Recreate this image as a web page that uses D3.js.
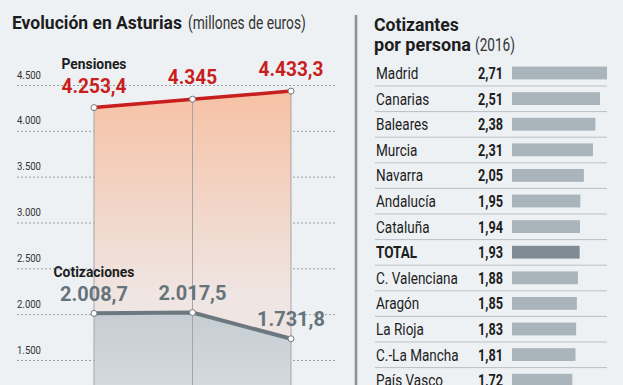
<!DOCTYPE html>
<html><head><meta charset="utf-8">
<script src="https://cdn.jsdelivr.net/npm/d3@7"></script>
<style>
html,body{margin:0;padding:0;background:#edf1f4;}
svg{display:block;}
text{font-family:Roboto,"Noto Sans",sans-serif;}
</style></head><body>
<svg id="c" width="623" height="385"></svg>
<script>
const years = ["2015","2016","2017"];
const pensiones = [4253.4, 4345, 4433.3];
const pensionesLabels = ["4.253,4","4.345","4.433,3"];
const cotizaciones = [2008.7, 2017.5, 1731.8];
const cotizacionesLabels = ["2.008,7","2.017,5","1.731,8"];
const yTicks = [1500, 2000, 2500, 3000, 3500, 4000, 4500];
const yTickLabels = ["1.500","2.000","2.500","3.000","3.500","4.000","4.500"];

const regiones = ["Madrid","Canarias","Baleares","Murcia","Navarra","Andalucía","Cataluña","TOTAL","C. Valenciana","Aragón","La Rioja","C.-La Mancha","País Vasco"];
const cotizantes = [2.71, 2.51, 2.38, 2.31, 2.05, 1.95, 1.94, 1.93, 1.88, 1.85, 1.83, 1.81, 1.72];
const cotizantesLabels = ["2,71","2,51","2,38","2,31","2,05","1,95","1,94","1,93","1,88","1,85","1,83","1,81","1,72"];

const svg = d3.select("#c");
svg.append("rect").attr("width",623).attr("height",385).attr("fill","#edf1f4");

// horizontal squeeze helper (condensed look)
function squeezeBy(sel, s){
  sel.each(function(){
    const t=d3.select(this); const x=+t.attr("x")||0, y=+t.attr("y")||0;
    t.attr("x",0).attr("y",0).attr("transform",`translate(${x},${y}) scale(${s},1)`);
  });
}
function fitTo(sel, target){
  sel.each(function(){
    const w=this.getComputedTextLength();
    squeezeBy(d3.select(this), target/w);
  });
}

const defs = svg.append("defs");
const gp = defs.append("linearGradient").attr("id","gp").attr("gradientUnits","userSpaceOnUse")
  .attr("x1",0).attr("x2",0).attr("y1",95).attr("y2",300);
gp.append("stop").attr("offset",0).attr("stop-color","#f6c2a6");
gp.append("stop").attr("offset",1).attr("stop-color","#efe6e4");
const gc = defs.append("linearGradient").attr("id","gc").attr("gradientUnits","userSpaceOnUse")
  .attr("x1",0).attr("x2",0).attr("y1",310).attr("y2",385);
gc.append("stop").attr("offset",0).attr("stop-color","#c6cdd2");
gc.append("stop").attr("offset",1).attr("stop-color","#d3d9dd");

// Title
const tA = svg.append("text").attr("x",12).attr("y",29).attr("fill","#1d1d1d")
  .attr("font-weight","bold").style("font-size","18px").text("Evolución en Asturias");
fitTo(tA,170);
const tB = svg.append("text").attr("x",188).attr("y",29).attr("fill","#333")
  .style("font-size","18px").text("(millones de euros)");
fitTo(tB,118);

// Scales
const x = d3.scalePoint().domain(years).range([94, 291]);
const y = d3.scaleLinear().domain([1500, 4500]).range([360, 85]);
const bottom = 385;

// grid
const axis = d3.axisLeft(y).tickValues(yTicks).tickSize(-(335-17)).tickFormat(d=>yTickLabels[yTicks.indexOf(d)]);
const ag = svg.append("g").attr("transform","translate(17,0)").call(axis);
ag.select(".domain").remove();
ag.selectAll(".tick line").attr("stroke","#9a9fa3").attr("stroke-dasharray","2,2").attr("stroke-width",1);
const tt = ag.selectAll(".tick text").attr("x",0).attr("y",-7).attr("dy",null).attr("text-anchor","start")
  .attr("fill","#333").style("font-size","11.5px");
fitTo(tt,24);

// areas
const areaP = d3.area().x((d,i)=>x(years[i])).y0(bottom).y1(d=>y(d));
svg.append("path").datum(pensiones).attr("d",areaP).attr("fill","url(#gp)");
const areaC = d3.area().x((d,i)=>x(years[i])).y0(bottom).y1(d=>y(d));
svg.append("path").datum(cotizaciones).attr("d",areaC).attr("fill","url(#gc)");

// vertical lines
svg.selectAll(".vl").data(years).enter().append("line")
  .attr("x1",d=>x(d)).attr("x2",d=>x(d)).attr("y1",(d,i)=>y(pensiones[i])).attr("y2",bottom)
  .attr("stroke","#a7a4a3").attr("stroke-width",1);

// lines
const line = d3.line().x((d,i)=>x(years[i])).y(d=>y(d));
svg.append("path").datum(pensiones).attr("d",line).attr("fill","none").attr("stroke","#c81e1e").attr("stroke-width",3.5);
svg.append("path").datum(cotizaciones).attr("d",line).attr("fill","none").attr("stroke","#6c7880").attr("stroke-width",4);

[pensiones, cotizaciones].forEach(s=>{
  svg.selectAll(null).data(s).enter().append("circle")
    .attr("cx",(d,i)=>x(years[i])).attr("cy",d=>y(d)).attr("r",3)
    .attr("fill","#fff").attr("stroke","#777").attr("stroke-width",1);
});

// labels
const pl = svg.selectAll(null).data(pensiones).enter().append("text")
  .attr("x",(d,i)=>x(years[i])).attr("y",d=>y(d)-15).attr("text-anchor","middle")
  .attr("fill","#c81e1e").attr("font-weight","bold").style("font-size","21px")
  .text((d,i)=>pensionesLabels[i]);
squeezeBy(pl, 65/pl.nodes()[0].getComputedTextLength());
const cl = svg.selectAll(null).data(cotizaciones).enter().append("text")
  .attr("x",(d,i)=>x(years[i])).attr("y",d=>y(d)-12.5).attr("text-anchor","middle")
  .attr("fill","#67737b").attr("font-weight","bold").style("font-size","21px")
  .text((d,i)=>cotizacionesLabels[i]);
squeezeBy(cl, 68/cl.nodes()[0].getComputedTextLength());
const lp = svg.append("text").attr("x",x(years[0])).attr("y",69).attr("text-anchor","middle")
  .attr("font-weight","bold").attr("fill","#1d1d1d").style("font-size","14.5px").text("Pensiones");
fitTo(lp,65);
const lc = svg.append("text").attr("x",x(years[0])).attr("y",277).attr("text-anchor","middle")
  .attr("font-weight","bold").attr("fill","#1d1d1d").style("font-size","14.5px").text("Cotizaciones");
fitTo(lc,81);

// divider
svg.append("line").attr("x1",356).attr("x2",356).attr("y1",15).attr("y2",385)
  .attr("stroke","#8c9195").attr("stroke-width",2.5);

// right title
const r1 = svg.append("text").attr("x",374).attr("y",31).attr("font-weight","bold").attr("fill","#1d1d1d")
  .style("font-size","17.5px").text("Cotizantes");
fitTo(r1,85);
const r2 = svg.append("text").attr("x",374).attr("y",51).attr("font-weight","bold").attr("fill","#1d1d1d")
  .style("font-size","17.5px").text("por persona");
fitTo(r2,97);
const r3 = svg.append("text").attr("x",475).attr("y",51).attr("fill","#333")
  .style("font-size","17.5px").text("(2016)");
fitTo(r3,40);

// rows
const yr = d3.scaleBand().domain(regiones).range([60.2, 60.2 + 25.6*regiones.length]).paddingInner(0.5).paddingOuter(0.25);
const xb = d3.scaleLinear().domain([0, 2.71]).range([0, 95]);
const rowC = d => yr(d) + yr.bandwidth()/2;

svg.selectAll(".sep").data(regiones.slice(0,-1)).enter().append("line")
  .attr("x1",375).attr("x2",607).attr("y1",d=>rowC(d)+13).attr("y2",d=>rowC(d)+13)
  .attr("stroke","#b9c0c5").attr("stroke-width",1);

svg.selectAll(".bar").data(regiones).enter().append("rect")
  .attr("x",512).attr("y",d=>yr(d)).attr("height",yr.bandwidth())
  .attr("width",(d,i)=>xb(cotizantes[i]))
  .attr("fill",d=>d==="TOTAL"?"#7f8c94":"#a9b4bb");

const nm = svg.selectAll(".nm").data(regiones).enter().append("text")
  .attr("x",376).attr("y",d=>rowC(d)+6).attr("fill","#1d1d1d").style("font-size","17px")
  .attr("font-weight",d=>d==="TOTAL"?"bold":"normal").text(d=>d);
squeezeBy(nm, 82/nm.nodes()[regiones.indexOf("C. Valenciana")].getComputedTextLength());
const vv = svg.selectAll(".vv").data(regiones).enter().append("text")
  .attr("x",503).attr("y",d=>rowC(d)+6).attr("text-anchor","end").attr("fill","#1d1d1d")
  .style("font-size","17px").attr("font-weight","bold").text((d,i)=>cotizantesLabels[i]);
squeezeBy(vv, 25/vv.nodes()[0].getComputedTextLength());
</script></body></html>
